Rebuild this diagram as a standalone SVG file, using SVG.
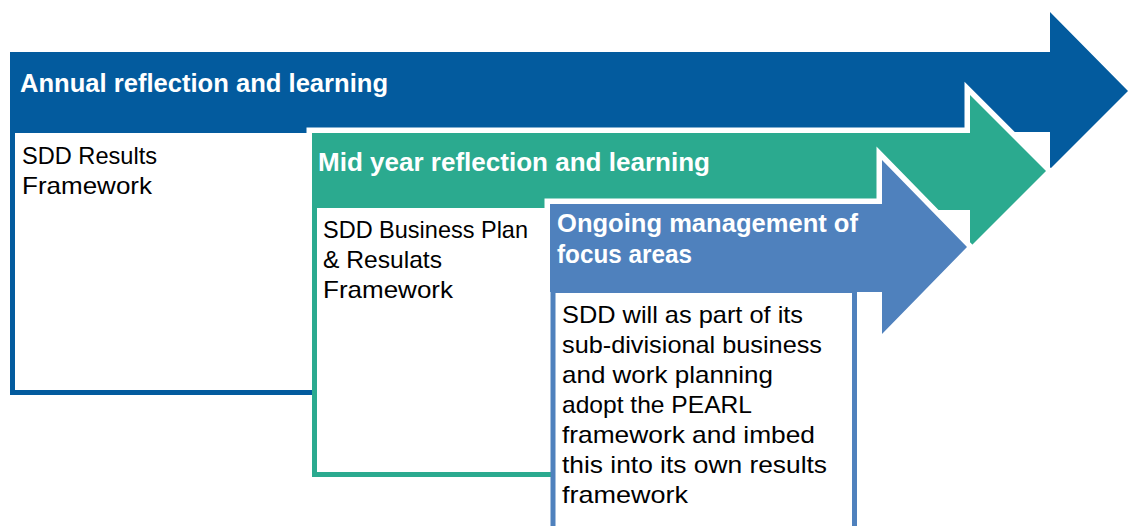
<svg xmlns="http://www.w3.org/2000/svg" width="1128" height="526" viewBox="0 0 1128 526">
<style>
.hd{font-family:"Liberation Sans",Arial,sans-serif;font-weight:bold;font-size:26px;fill:#fff}
.bd{font-family:"Liberation Sans",Arial,sans-serif;font-size:24px;fill:#000}
.halo{fill:#fff;stroke:#fff;stroke-width:11;stroke-linejoin:miter}
</style>
<rect width="1128" height="526" fill="#fff"/>
<g id="annual">
<polygon points="10,52 1050,52 1050,12 1128,91 1050,169 1050,132 10,132" fill="#035B9E"/>
<rect x="12.5" y="130.5" width="320" height="262" fill="#fff" stroke="#035B9E" stroke-width="5"/>
<text class="hd" x="20" y="92" textLength="368" lengthAdjust="spacingAndGlyphs">Annual reflection and learning</text>
<text class="bd" x="22" y="164" textLength="135" lengthAdjust="spacingAndGlyphs">SDD Results</text>
<text class="bd" x="22" y="194" textLength="130" lengthAdjust="spacingAndGlyphs">Framework</text>
</g>
<g id="midyear">
<polygon class="halo" points="312,133 970,133 970,95 1046,171 970,247 970,210 312,210"/>
<polygon points="312,133 970,133 970,95 1046,171 970,247 970,210 312,210" fill="#2BAA8F"/>
<rect x="314.5" y="205.5" width="250" height="269" fill="#fff" stroke="#2BAA8F" stroke-width="5"/>
<text class="hd" x="318" y="171" textLength="392" lengthAdjust="spacingAndGlyphs">Mid year reflection and learning</text>
<text class="bd" x="323" y="238" textLength="205" lengthAdjust="spacingAndGlyphs">SDD Business Plan</text>
<text class="bd" x="323" y="268" textLength="119" lengthAdjust="spacingAndGlyphs">&amp; Resulats</text>
<text class="bd" x="323" y="298" textLength="130" lengthAdjust="spacingAndGlyphs">Framework</text>
</g>
<g id="ongoing">
<polygon class="halo" points="550,204 882,204 882,160 967,247 882,334 882,292 550,292"/>
<polygon points="550,204 882,204 882,160 967,247 882,334 882,292 550,292" fill="#4F81BD"/>
<rect x="553" y="290.5" width="301.5" height="260" fill="#fff" stroke="#4F81BD" stroke-width="5"/>
<text class="hd" x="557" y="232" textLength="301" lengthAdjust="spacingAndGlyphs">Ongoing management of</text>
<text class="hd" x="557" y="263" textLength="135" lengthAdjust="spacingAndGlyphs">focus areas</text>
<text class="bd" x="562" y="323" textLength="241" lengthAdjust="spacingAndGlyphs">SDD will as part of its</text>
<text class="bd" x="562" y="353" textLength="260" lengthAdjust="spacingAndGlyphs">sub-divisional business</text>
<text class="bd" x="562" y="383" textLength="211" lengthAdjust="spacingAndGlyphs">and work planning</text>
<text class="bd" x="562" y="413" textLength="190" lengthAdjust="spacingAndGlyphs">adopt the PEARL</text>
<text class="bd" x="562" y="443" textLength="253" lengthAdjust="spacingAndGlyphs">framework and imbed</text>
<text class="bd" x="562" y="473" textLength="265" lengthAdjust="spacingAndGlyphs">this into its own results</text>
<text class="bd" x="562" y="503" textLength="126" lengthAdjust="spacingAndGlyphs">framework</text>
</g>
<g id="connectors"></g>
</svg>
